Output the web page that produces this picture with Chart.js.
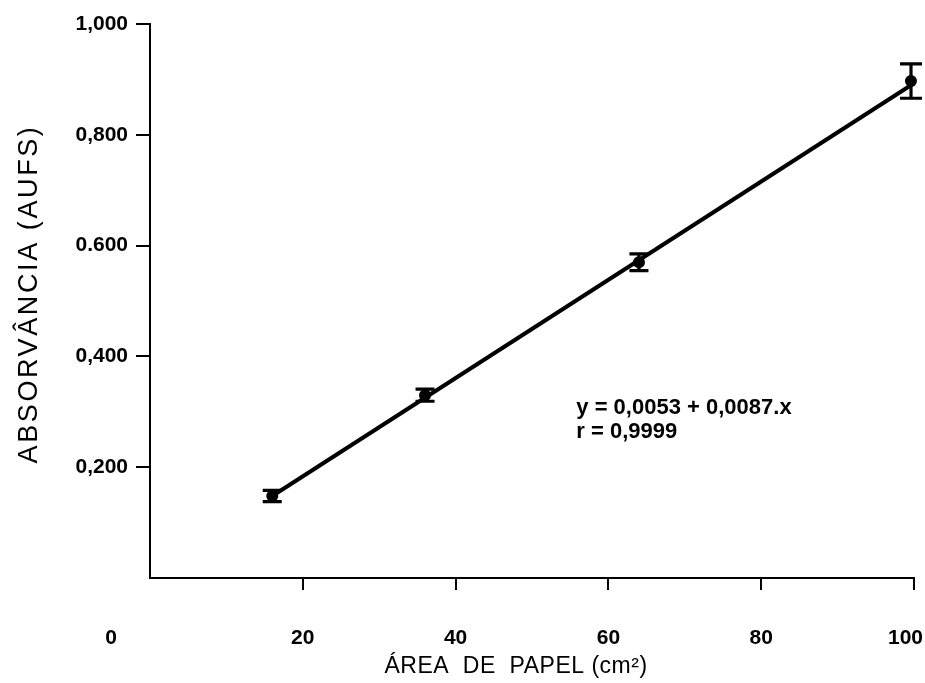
<!DOCTYPE html>
<html>
<head>
<meta charset="UTF-8">
<title>Absorvância x área de papel</title>
<script src="https://cdn.jsdelivr.net/npm/chart.js@4.4.1/dist/chart.umd.min.js"></script>
<style>
    html, body { margin: 0; padding: 0; background: #fff; }
    #wrap { width: 925px; height: 683px; }
</style>
</head>
<body>
<div id="wrap"><canvas id="grafico"></canvas></div>
<script>
    // valores
    const areas = [16, 36, 64, 100];
    const absorvancias = [0.148, 0.330, 0.570, 0.897];
    const erros = [0.010, 0.011, 0.015, 0.031];
    const retaX = [16, 100];
    const retaY = [0.148, 0.893];

    const xTicks = [0, 20, 40, 60, 80, 100];
    const xTickLabels = ['0', '20', '40', '60', '80', '100'];
    const yTicks = [0.2, 0.4, 0.6, 0.8, 1.0];
    const yTickLabels = ['0,200', '0,400', '0.600', '0,800', '1,000'];

    const equacao = ['y = 0,0053 + 0,0087.x', 'r = 0,9999'];
    const equacaoPos = [55.8, 0.307];

    const tickFont = 'bold 21px "Liberation Sans"';

    function semZero(ctx) {
        return ctx.tick && ctx.tick.value === 0 ? 'rgba(0,0,0,0)' : '#000';
    }

    const extras = {
        id: 'extras',
        afterDatasetsDraw(chart) {
            const c = chart.ctx, xs = chart.scales.x, ys = chart.scales.y;
            c.save();
            // barras de erro
            c.strokeStyle = '#000';
            c.lineWidth = 3.2;
            areas.forEach((a, i) => {
                const px = xs.getPixelForValue(a) - (i === 3 ? 3 : 0);
                const top = ys.getPixelForValue(absorvancias[i] + erros[i]);
                const bot = ys.getPixelForValue(absorvancias[i] - erros[i]);
                const w = i === 3 ? 11 : 9.5;
                c.beginPath();
                c.moveTo(px, top); c.lineTo(px, bot);
                c.moveTo(px - w, top); c.lineTo(px + w, top);
                c.moveTo(px - w, bot); c.lineTo(px + w, bot);
                c.stroke();
            });
            // rótulos do eixo x
            c.fillStyle = '#000';
            c.font = tickFont;
            c.textAlign = 'center';
            c.textBaseline = 'middle';
            const ty = ys.getPixelForValue(0) + 60;
            xTicks.forEach((v, i) => {
                let px = xs.getPixelForValue(v);
                const w = c.measureText(xTickLabels[i]).width;
                if (v === 0) px -= 39;
                px = Math.min(px, chart.width - w / 2 - 2);
                c.fillText(xTickLabels[i], px, ty);
            });
            // títulos
            c.font = '23px "Liberation Sans"';
            c.letterSpacing = '0.5px';
            c.fillText('ÁREA  DE  PAPEL (cm²)', 516, 667);
            c.save();
            c.translate(30, 294);
            c.rotate(-Math.PI / 2);
            c.font = '27px "Liberation Sans"';
            c.letterSpacing = '2.6px';
            c.fillText('ABSORVÂNCIA (AUFS)', 0, 0);
            c.restore();
            c.letterSpacing = '0px';
            // equação
            c.font = 'bold 22px "Liberation Sans"';
            c.textAlign = 'left';
            const ex = xs.getPixelForValue(equacaoPos[0]);
            const ey = ys.getPixelForValue(equacaoPos[1]);
            c.fillText(equacao[0], ex, ey);
            c.fillText(equacao[1], ex, ey + 24);
            c.restore();
        }
    };

    new Chart(document.getElementById('grafico'), {
        type: 'scatter',
        data: {
            datasets: [
                {
                    type: 'line',
                    data: retaX.map((x, i) => ({ x: x, y: retaY[i] })),
                    borderColor: '#000',
                    borderWidth: 4,
                    pointRadius: 0,
                    fill: false,
                    clip: false
                },
                {
                    data: areas.map((x, i) => ({ x: x - (i === 3 ? 0.4 : 0), y: absorvancias[i] })),
                    backgroundColor: '#000',
                    borderColor: '#000',
                    pointRadius: 6,
                    pointBorderWidth: 0,
                    clip: false
                }
            ]
        },
        plugins: [extras],
        options: {
            responsive: true,
            maintainAspectRatio: false,
            animation: false,
            layout: { padding: { left: 0, right: 11, top: 24, bottom: 0 } },
            plugins: { legend: { display: false }, tooltip: { enabled: false } },
            scales: {
                x: {
                    type: 'linear',
                    min: 0, max: 100,
                    afterBuildTicks(s) { s.ticks = xTicks.map(v => ({ value: v })); },
                    afterFit(s) { s.height = 105; },
                    ticks: { display: false },
                    grid: { drawOnChartArea: false, drawTicks: true, tickLength: 12, color: semZero, lineWidth: 2 },
                    border: { display: true, color: '#000', width: 2 }
                },
                y: {
                    min: 0, max: 1,
                    afterBuildTicks(s) { s.ticks = [0].concat(yTicks).map(v => ({ value: v })); },
                    afterFit(s) { s.width = 150; },
                    ticks: {
                        color: '#000',
                        padding: 8,
                        font: { family: 'Liberation Sans', size: 21, weight: 'bold' },
                        callback(v) {
                            const i = yTicks.findIndex(t => Math.abs(t - v) < 1e-6);
                            return i < 0 ? '' : yTickLabels[i];
                        }
                    },
                    grid: { drawOnChartArea: false, drawTicks: true, tickLength: 14, color: semZero, lineWidth: 2 },
                    border: { display: true, color: '#000', width: 2 }
                }
            }
        }
    });
</script>
</body>
</html>
